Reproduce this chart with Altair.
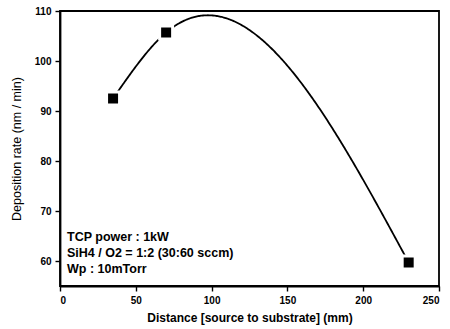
import altair as alt
import numpy as np
import pandas as pd

# ---- data ----
distance = [35, 70, 230]
rate = [92.5, 105.7, 59.7]
x_ticks = [0, 50, 100, 150, 200, 250]
y_ticks = [60, 70, 80, 90, 100, 110]
notes = ["TCP power : 1kW", "SiH4 / O2 = 1:2 (30:60 sccm)", "Wp : 10mTorr"]


def natural_spline(xs, ys, n=300):
    """Natural cubic spline through the measured points (the fitted curve of the original)."""
    xs = np.asarray(xs, float)
    ys = np.asarray(ys, float)
    k = len(xs)
    h = np.diff(xs)
    A = np.zeros((k, k))
    r = np.zeros(k)
    A[0, 0] = A[-1, -1] = 1
    for i in range(1, k - 1):
        A[i, i - 1] = h[i - 1]
        A[i, i] = 2 * (h[i - 1] + h[i])
        A[i, i + 1] = h[i]
        r[i] = 6 * ((ys[i + 1] - ys[i]) / h[i] - (ys[i] - ys[i - 1]) / h[i - 1])
    M = np.linalg.solve(A, r)
    xx = np.linspace(xs[0], xs[-1], n)
    idx = np.clip(np.searchsorted(xs, xx, side="right") - 1, 0, k - 2)
    x0, x1 = xs[idx], xs[idx + 1]
    hh = x1 - x0
    a = (x1 - xx) / hh
    b = (xx - x0) / hh
    yy = a * ys[idx] + b * ys[idx + 1] + ((a ** 3 - a) * M[idx] + (b ** 3 - b) * M[idx + 1]) * hh ** 2 / 6
    return xx, yy


pts = pd.DataFrame({"distance": distance, "rate": rate})
cx, cy = natural_spline(distance, rate)
curve = pd.DataFrame({"distance": cx, "rate": cy})
note_df = pd.DataFrame({"note": notes, "row": list(range(len(notes)))})

FONT = "Liberation Sans"

xenc = alt.X(
    "distance:Q",
    scale=alt.Scale(domain=[0, 250], nice=False, zero=False),
    axis=alt.Axis(values=x_ticks, title="Distance [source to substrate] (mm)", format="d",
                  titleFontWeight="bold", titleFontSize=12, titlePadding=7),
)
yenc = alt.Y(
    "rate:Q",
    scale=alt.Scale(domain=[55, 110], nice=False, zero=False),
    axis=alt.Axis(values=y_ticks, title="Deposition rate (nm / min)", format="d",
                  titleFontWeight="normal", titleFontSize=12.5, titlePadding=11),
)

line = alt.Chart(curve).mark_line(color="black", strokeWidth=1.8, clip=True).encode(x=xenc, y=yenc)
halo = alt.Chart(pts).mark_point(shape="square", filled=True, color="white", size=256, opacity=1).encode(
    x="distance:Q", y="rate:Q"
)
marks = alt.Chart(pts).mark_point(shape="square", filled=True, color="black", size=100, opacity=1).encode(
    x="distance:Q", y="rate:Q"
)
text = (
    alt.Chart(note_df)
    .transform_calculate(py="230 + datum.row * 16")
    .mark_text(align="left", baseline="alphabetic", font=FONT, fontSize=12.5,
               fontWeight="bold", color="black")
    .encode(
        x=alt.value(7),
        y=alt.Y("py:Q", scale=None, axis=None),
        text="note:N",
    )
)

chart = (
    alt.layer(line, halo, marks, text)
    .properties(
        width=379,
        height=275,
        autosize=alt.AutoSizeParams(type="none"),
        padding={"left": 60, "top": 11, "right": 11, "bottom": 43},
        background="white",
    )
    .configure_axis(
        labelFont=FONT,
        titleFont=FONT,
        labelFontSize=10,
        labelFontWeight="bold",
        labelColor="black",
        titleColor="black",
        domainColor="black",
        tickColor="black",
        domainWidth=1.8,
        tickWidth=1.4,
        tickSize=5,
        labelPadding=4,
        grid=False,
    )
    .configure_view(stroke="black", strokeWidth=1.8)
)

chart.save("out.html", embed_options={"renderer": "svg", "actions": False})
